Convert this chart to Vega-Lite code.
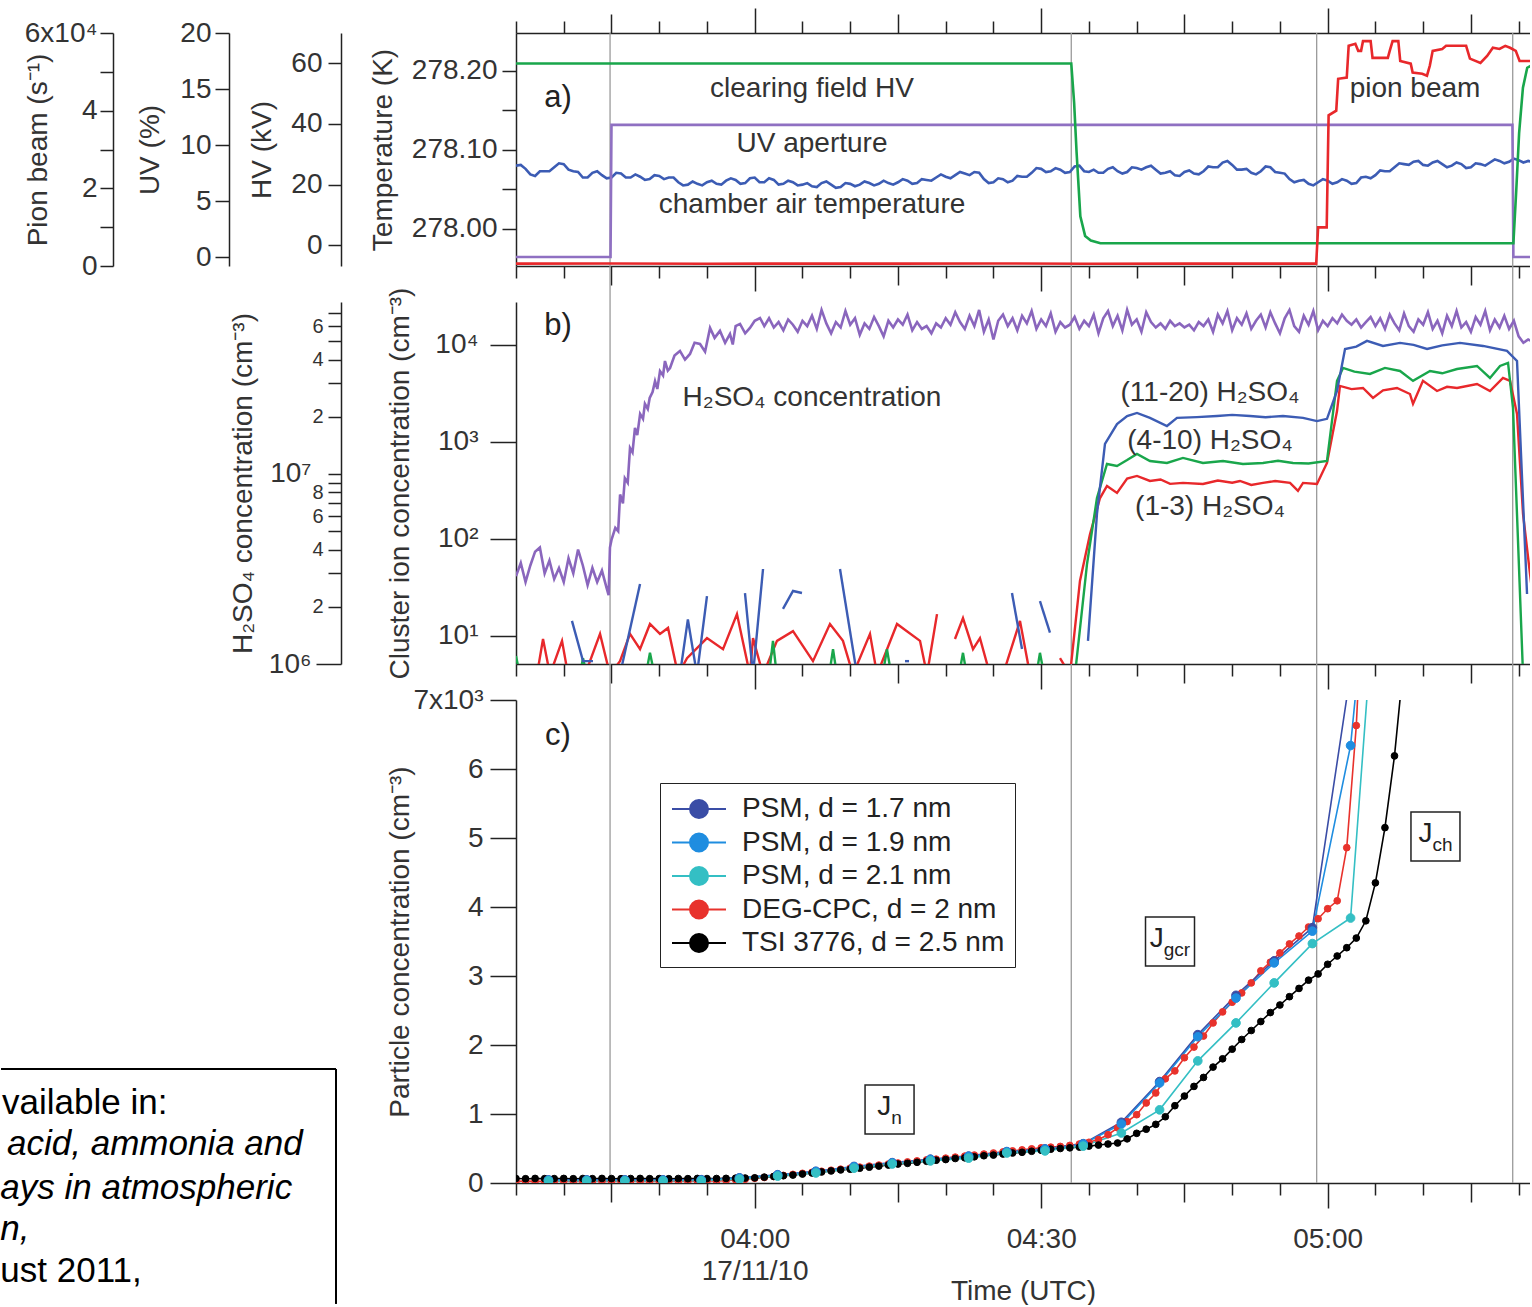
{
"$schema":"https://vega.github.io/schema/vega-lite/v6.json",
"background":"white",
"padding":{"left":0,"top":7,"right":0,"bottom":0},
"config":{
 "font":"Liberation Sans",
 "view":{"stroke":null},
 "axis":{"grid":false,"domainColor":"#222","domainWidth":1.5,"tickColor":"#222","tickWidth":1.5,"labelColor":"#333","labelFontSize":28,"titleColor":"#333","titleFontSize":28,"titleFontWeight":"normal","labelFont":"Liberation Sans","titleFont":"Liberation Sans","labelOverlap":false,"labelBound":false,"labelFlush":false},
 "text":{"font":"Liberation Sans","color":"#333"}
},
"bounds":"flush",
"spacing":36,
"datasets":{
 "vlines":[{"t":-15.15},{"t":33.15},{"t":58.85},{"t":79.38}],
 "hv":[{"t":-25,"v":60},{"t":33.15,"v":60},{"t":33.45,"v":47},{"t":33.7,"v":31},{"t":34.1,"v":9.5},{"t":34.6,"v":3},{"t":35.2,"v":1.5},{"t":36.2,"v":0.6},{"t":79.45,"v":0.6},{"t":79.75,"v":18},{"t":80.05,"v":37},{"t":80.45,"v":52},{"t":80.9,"v":58.6},{"t":81.4,"v":59.5}],
 "uv":[{"t":-25,"v":0},{"t":-15.1,"v":0},{"t":-15.0,"v":11.8},{"t":79.35,"v":11.8},{"t":79.45,"v":0},{"t":81.4,"v":0}],
 "pion":[{"t":-25,"v":600},{"t":-15,"v":650},{"t":-5,"v":580},{"t":5,"v":620},{"t":15,"v":600},{"t":25,"v":640},{"t":35,"v":590},{"t":45,"v":620},{"t":58.8,"v":600},{"t":59.0,"v":9950},{"t":59.9,"v":9950},{"t":60.1,"v":38800},{"t":60.9,"v":40000},{"t":61.1,"v":48200},{"t":62.0,"v":48500},{"t":62.2,"v":56700},{"t":62.9,"v":57200},{"t":63.2,"v":55400},{"t":63.5,"v":55400},{"t":63.7,"v":57900},{"t":64.5,"v":57900},{"t":64.7,"v":53600},{"t":66.3,"v":53600},{"t":66.5,"v":55400},{"t":66.8,"v":57900},{"t":67.4,"v":57900},{"t":67.6,"v":52800},{"t":68.7,"v":52100},{"t":68.9,"v":49800},{"t":69.9,"v":49500},{"t":70.4,"v":49000},{"t":70.7,"v":51600},{"t":71.0,"v":55400},{"t":72.0,"v":55900},{"t":72.4,"v":56700},{"t":74.5,"v":56700},{"t":74.9,"v":53400},{"t":76.0,"v":52300},{"t":76.7,"v":54100},{"t":77.3,"v":56200},{"t":78.0,"v":55900},{"t":78.6,"v":56700},{"t":79.1,"v":56200},{"t":79.7,"v":55400},{"t":80.1,"v":52800},{"t":81.4,"v":52800}],
 "temp":[{"t":-25,"v":278.080},{"t":-24.5,"v":278.081},{"t":-24,"v":278.076},{"t":-23.5,"v":278.069},{"t":-23,"v":278.067},{"t":-22.5,"v":278.073},{"t":-22,"v":278.073},{"t":-21.5,"v":278.073},{"t":-21,"v":278.078},{"t":-20.5,"v":278.083},{"t":-20,"v":278.082},{"t":-19.5,"v":278.075},{"t":-19,"v":278.073},{"t":-18.5,"v":278.072},{"t":-18,"v":278.065},{"t":-17.5,"v":278.065},{"t":-17,"v":278.071},{"t":-16.5,"v":278.073},{"t":-16,"v":278.068},{"t":-15.5,"v":278.064},{"t":-15,"v":278.065},{"t":-14.5,"v":278.071},{"t":-14,"v":278.070},{"t":-13.5,"v":278.065},{"t":-13,"v":278.065},{"t":-12.5,"v":278.069},{"t":-12,"v":278.066},{"t":-11.5,"v":278.062},{"t":-11,"v":278.063},{"t":-10.5,"v":278.068},{"t":-10,"v":278.067},{"t":-9.5,"v":278.063},{"t":-9,"v":278.065},{"t":-8.5,"v":278.065},{"t":-8,"v":278.059},{"t":-7.5,"v":278.055},{"t":-7,"v":278.056},{"t":-6.5,"v":278.060},{"t":-6,"v":278.057},{"t":-5.5,"v":278.055},{"t":-5,"v":278.059},{"t":-4.5,"v":278.061},{"t":-4,"v":278.057},{"t":-3.5,"v":278.056},{"t":-3,"v":278.061},{"t":-2.5,"v":278.064},{"t":-2,"v":278.062},{"t":-1.5,"v":278.057},{"t":-1,"v":278.058},{"t":-0.5,"v":278.064},{"t":0,"v":278.065},{"t":0.5,"v":278.059},{"t":1,"v":278.059},{"t":1.5,"v":278.064},{"t":2,"v":278.062},{"t":2.5,"v":278.056},{"t":3,"v":278.057},{"t":3.5,"v":278.061},{"t":4,"v":278.059},{"t":4.5,"v":278.055},{"t":5,"v":278.056},{"t":5.5,"v":278.058},{"t":6,"v":278.054},{"t":6.5,"v":278.053},{"t":7,"v":278.058},{"t":7.5,"v":278.060},{"t":8,"v":278.056},{"t":8.5,"v":278.052},{"t":9,"v":278.053},{"t":9.5,"v":278.058},{"t":10,"v":278.057},{"t":10.5,"v":278.054},{"t":11,"v":278.056},{"t":11.5,"v":278.060},{"t":12,"v":278.058},{"t":12.5,"v":278.055},{"t":13,"v":278.057},{"t":13.5,"v":278.061},{"t":14,"v":278.058},{"t":14.5,"v":278.056},{"t":15,"v":278.059},{"t":15.5,"v":278.063},{"t":16,"v":278.061},{"t":16.5,"v":278.057},{"t":17,"v":278.058},{"t":17.5,"v":278.063},{"t":18,"v":278.062},{"t":18.5,"v":278.061},{"t":19,"v":278.065},{"t":19.5,"v":278.069},{"t":20,"v":278.066},{"t":20.5,"v":278.064},{"t":21,"v":278.068},{"t":21.5,"v":278.072},{"t":22,"v":278.070},{"t":22.5,"v":278.068},{"t":23,"v":278.072},{"t":23.5,"v":278.071},{"t":24,"v":278.063},{"t":24.5,"v":278.058},{"t":25,"v":278.059},{"t":25.5,"v":278.064},{"t":26,"v":278.063},{"t":26.5,"v":278.059},{"t":27,"v":278.061},{"t":27.5,"v":278.067},{"t":28,"v":278.066},{"t":28.5,"v":278.066},{"t":29,"v":278.071},{"t":29.5,"v":278.077},{"t":30,"v":278.076},{"t":30.5,"v":278.072},{"t":31,"v":278.073},{"t":31.5,"v":278.077},{"t":32,"v":278.075},{"t":32.5,"v":278.071},{"t":33,"v":278.072},{"t":33.5,"v":278.079},{"t":34,"v":278.080},{"t":34.5,"v":278.073},{"t":35,"v":278.072},{"t":35.5,"v":278.075},{"t":36,"v":278.071},{"t":36.5,"v":278.071},{"t":37,"v":278.076},{"t":37.5,"v":278.078},{"t":38,"v":278.073},{"t":38.5,"v":278.070},{"t":39,"v":278.072},{"t":39.5,"v":278.078},{"t":40,"v":278.077},{"t":40.5,"v":278.075},{"t":41,"v":278.078},{"t":41.5,"v":278.080},{"t":42,"v":278.075},{"t":42.5,"v":278.070},{"t":43,"v":278.071},{"t":43.5,"v":278.073},{"t":44,"v":278.068},{"t":44.5,"v":278.067},{"t":45,"v":278.072},{"t":45.5,"v":278.074},{"t":46,"v":278.070},{"t":46.5,"v":278.069},{"t":47,"v":278.073},{"t":47.5,"v":278.079},{"t":48,"v":278.078},{"t":48.5,"v":278.078},{"t":49,"v":278.084},{"t":49.5,"v":278.086},{"t":50,"v":278.081},{"t":50.5,"v":278.075},{"t":51,"v":278.075},{"t":51.5,"v":278.076},{"t":52,"v":278.071},{"t":52.5,"v":278.069},{"t":53,"v":278.073},{"t":53.5,"v":278.079},{"t":54,"v":278.078},{"t":54.5,"v":278.072},{"t":55,"v":278.071},{"t":55.5,"v":278.070},{"t":56,"v":278.063},{"t":56.5,"v":278.059},{"t":57,"v":278.061},{"t":57.5,"v":278.062},{"t":58,"v":278.057},{"t":58.5,"v":278.055},{"t":59,"v":278.059},{"t":59.5,"v":278.063},{"t":60,"v":278.061},{"t":60.5,"v":278.057},{"t":61,"v":278.059},{"t":61.5,"v":278.063},{"t":62,"v":278.061},{"t":62.5,"v":278.057},{"t":63,"v":278.058},{"t":63.5,"v":278.065},{"t":64,"v":278.066},{"t":64.5,"v":278.064},{"t":65,"v":278.068},{"t":65.5,"v":278.074},{"t":66,"v":278.073},{"t":66.5,"v":278.073},{"t":67,"v":278.078},{"t":67.5,"v":278.083},{"t":68,"v":278.082},{"t":68.5,"v":278.081},{"t":69,"v":278.085},{"t":69.5,"v":278.086},{"t":70,"v":278.081},{"t":70.5,"v":278.080},{"t":71,"v":278.084},{"t":71.5,"v":278.086},{"t":72,"v":278.082},{"t":72.5,"v":278.078},{"t":73,"v":278.080},{"t":73.5,"v":278.084},{"t":74,"v":278.082},{"t":74.5,"v":278.077},{"t":75,"v":278.078},{"t":75.5,"v":278.083},{"t":76,"v":278.082},{"t":76.5,"v":278.080},{"t":77,"v":278.084},{"t":77.5,"v":278.088},{"t":78,"v":278.086},{"t":78.5,"v":278.083},{"t":79,"v":278.085},{"t":79.5,"v":278.089},{"t":80,"v":278.087},{"t":80.5,"v":278.084},{"t":81,"v":278.086},{"t":81.4,"v":278.085}],
 "h2so4":[{"t":-25,"v":2.9e6},{"t":-24.5,"v":3.4e6},{"t":-24,"v":2.7e6},{"t":-23.5,"v":3.3e6},{"t":-23,"v":3.9e6},{"t":-22.5,"v":4.1e6},{"t":-22,"v":3.0e6},{"t":-21.5,"v":3.5e6},{"t":-21,"v":2.8e6},{"t":-20.5,"v":3.2e6},{"t":-20,"v":2.7e6},{"t":-19.5,"v":3.6e6},{"t":-19,"v":3.0e6},{"t":-18.5,"v":4.0e6},{"t":-18,"v":3.3e6},{"t":-17.5,"v":2.6e6},{"t":-17,"v":3.2e6},{"t":-16.5,"v":2.7e6},{"t":-16,"v":3.1e6},{"t":-15.5,"v":2.5e6},{"t":-15.3,"v":2.3e6},{"t":-15.16,"v":4.1e6},{"t":-15.0,"v":4.5e6},{"t":-14.6,"v":5.2e6},{"t":-14.3,"v":5.0e6},{"t":-14.1,"v":7.8e6},{"t":-13.8,"v":7.0e6},{"t":-13.6,"v":9.5e6},{"t":-13.3,"v":9.0e6},{"t":-13.06,"v":1.37e7},{"t":-12.8,"v":1.3e7},{"t":-12.54,"v":1.75e7},{"t":-12.3,"v":1.6e7},{"t":-12.0,"v":2.07e7},{"t":-11.7,"v":1.95e7},{"t":-11.5,"v":2.34e7},{"t":-11.2,"v":2.2e7},{"t":-11.0,"v":2.51e7},{"t":-10.7,"v":2.7e7},{"t":-10.44,"v":3.08e7},{"t":-10.2,"v":2.8e7},{"t":-9.92,"v":3.48e7},{"t":-9.6,"v":3.3e7},{"t":-9.4,"v":3.93e7},{"t":-9.1,"v":3.5e7},{"t":-8.87,"v":3.61e7},{"t":-8.4,"v":4.2e7},{"t":-7.83,"v":4.44e7},{"t":-7.3,"v":4.0e7},{"t":-6.78,"v":4.28e7},{"t":-6.3,"v":4.9e7},{"t":-5.73,"v":4.83e7},{"t":-5.2,"v":4.4e7},{"t":-4.68,"v":5.87e7},{"t":-4.2,"v":5.2e7},{"t":-3.64,"v":5.66e7},{"t":-3.1,"v":4.9e7},{"t":-2.59,"v":5.46e7},{"t":-2.3,"v":4.8e7},{"t":-2.0,"v":6.0e7},{"t":-1.54,"v":6.16e7},{"t":-1.0,"v":5.5e7},{"t":-0.5,"v":5.87e7},{"t":0,"v":6.4e7},{"t":0.55,"v":6.62e7},
 {"t":1.0,"v":6.0e7},{"t":1.5,"v":6.6e7},{"t":2.0,"v":5.9e7},{"t":2.5,"v":6.3e7},{"t":3.0,"v":5.7e7},{"t":3.5,"v":6.5e7},{"t":4.0,"v":6.1e7},{"t":4.5,"v":5.6e7},{"t":5.0,"v":6.4e7},{"t":5.5,"v":6.0e7},{"t":6.0,"v":6.8e7},{"t":6.5,"v":5.8e7},{"t":7.0,"v":7.3e7},{"t":7.5,"v":6.2e7},{"t":8.0,"v":5.5e7},{"t":8.5,"v":6.3e7},{"t":9.0,"v":5.9e7},{"t":9.5,"v":7.2e7},{"t":10.0,"v":6.1e7},{"t":10.5,"v":6.6e7},{"t":11.0,"v":5.4e7},{"t":11.5,"v":6.2e7},{"t":12.0,"v":5.8e7},{"t":12.5,"v":6.7e7},{"t":13.0,"v":6.0e7},{"t":13.5,"v":5.3e7},{"t":14.0,"v":6.4e7},{"t":14.5,"v":5.9e7},{"t":15.0,"v":6.5e7},{"t":15.5,"v":6.1e7},{"t":16.0,"v":6.9e7},{"t":16.5,"v":5.7e7},{"t":17.0,"v":6.3e7},{"t":17.5,"v":5.8e7},{"t":18.0,"v":6.0e7},{"t":18.5,"v":5.5e7},{"t":19.0,"v":6.2e7},{"t":19.5,"v":5.9e7},{"t":20.0,"v":6.6e7},{"t":20.5,"v":6.1e7},{"t":21.0,"v":7.1e7},{"t":21.5,"v":6.3e7},{"t":22.0,"v":5.8e7},{"t":22.5,"v":6.8e7},{"t":23.0,"v":6.0e7},{"t":23.5,"v":7.3e7},{"t":24.0,"v":5.6e7},{"t":24.5,"v":6.5e7},{"t":25.0,"v":5.1e7},{"t":25.5,"v":6.4e7},{"t":26.0,"v":6.9e7},{"t":26.5,"v":6.0e7},{"t":27.0,"v":6.6e7},{"t":27.5,"v":5.7e7},{"t":28.0,"v":6.8e7},{"t":28.5,"v":6.2e7},{"t":29.0,"v":7.2e7},{"t":29.5,"v":5.8e7},{"t":30.0,"v":6.5e7},{"t":30.5,"v":6.0e7},{"t":31.0,"v":7.0e7},{"t":31.5,"v":5.6e7},{"t":32.0,"v":6.3e7},{"t":32.5,"v":5.9e7},{"t":33.0,"v":6.1e7},{"t":33.5,"v":6.7e7},{"t":34.0,"v":5.8e7},{"t":34.5,"v":6.4e7},{"t":35.0,"v":6.0e7},{"t":35.5,"v":6.9e7},{"t":36.0,"v":5.5e7},{"t":36.5,"v":6.6e7},{"t":37.0,"v":7.2e7},{"t":37.5,"v":6.0e7},{"t":38.0,"v":6.8e7},{"t":38.5,"v":5.7e7},{"t":39.0,"v":7.3e7},{"t":39.5,"v":6.1e7},{"t":40.0,"v":6.5e7},{"t":40.5,"v":5.6e7},{"t":41.0,"v":7.1e7},{"t":41.5,"v":6.3e7},{"t":42.0,"v":5.9e7},{"t":42.5,"v":6.2e7},{"t":43.0,"v":5.8e7},{"t":43.5,"v":6.4e7},{"t":44.0,"v":6.0e7},{"t":44.5,"v":6.2e7},{"t":45.0,"v":5.9e7},{"t":45.5,"v":6.1e7},{"t":46.0,"v":5.7e7},{"t":46.5,"v":6.3e7},{"t":47.0,"v":6.0e7},{"t":47.5,"v":6.5e7},{"t":48.0,"v":5.6e7},{"t":48.5,"v":6.9e7},{"t":49.0,"v":6.2e7},{"t":49.5,"v":7.2e7},{"t":50.0,"v":5.7e7},{"t":50.5,"v":6.6e7},{"t":51.0,"v":6.1e7},{"t":51.5,"v":7.0e7},{"t":52.0,"v":5.8e7},{"t":52.5,"v":6.4e7},{"t":53.0,"v":6.9e7},{"t":53.5,"v":5.9e7},{"t":54.0,"v":7.1e7},{"t":54.5,"v":6.2e7},{"t":55.0,"v":5.5e7},{"t":55.5,"v":6.6e7},{"t":56.0,"v":7.3e7},{"t":56.5,"v":6.0e7},{"t":57.0,"v":5.6e7},{"t":57.5,"v":6.8e7},{"t":58.0,"v":6.1e7},{"t":58.5,"v":7.2e7},{"t":59.0,"v":5.7e7},{"t":59.5,"v":6.4e7},{"t":60.0,"v":6.0e7},{"t":60.5,"v":6.6e7},{"t":61.0,"v":6.2e7},{"t":61.5,"v":6.9e7},{"t":62.0,"v":6.4e7},{"t":62.5,"v":6.1e7},{"t":63.0,"v":6.5e7},{"t":63.5,"v":5.9e7},{"t":64.0,"v":6.3e7},{"t":64.5,"v":6.7e7},{"t":65.0,"v":6.0e7},{"t":65.5,"v":6.6e7},{"t":66.0,"v":5.8e7},{"t":66.5,"v":6.9e7},{"t":67.0,"v":6.2e7},{"t":67.5,"v":5.7e7},{"t":68.0,"v":7.0e7},{"t":68.5,"v":6.0e7},{"t":69.0,"v":5.6e7},{"t":69.5,"v":6.5e7},{"t":70.0,"v":6.1e7},{"t":70.5,"v":7.1e7},{"t":71.0,"v":5.8e7},{"t":71.5,"v":6.4e7},{"t":72.0,"v":5.5e7},{"t":72.5,"v":6.8e7},{"t":73.0,"v":6.0e7},{"t":73.5,"v":7.2e7},{"t":74.0,"v":5.9e7},{"t":74.5,"v":6.3e7},{"t":75.0,"v":5.6e7},{"t":75.5,"v":6.7e7},{"t":76.0,"v":6.1e7},{"t":76.5,"v":7.2e7},{"t":77.0,"v":5.7e7},{"t":77.5,"v":6.5e7},{"t":78.0,"v":5.9e7},{"t":78.5,"v":6.8e7},{"t":79.0,"v":5.8e7},{"t":79.5,"v":6.4e7},{"t":80.0,"v":5.3e7},{"t":80.5,"v":4.9e7},{"t":81.0,"v":5.1e7},{"t":81.4,"v":5.0e7}],
 "ions":[
 {"s":"r","g":"r1","t":-25,"v":4},{"s":"r","g":"r1","t":-22.8,"v":4},{"s":"r","g":"r1","t":-22.17,"v":9.3},{"s":"r","g":"r1","t":-21.44,"v":4},{"s":"r","g":"r1","t":-20.18,"v":8.9},{"s":"r","g":"r1","t":-19.55,"v":4},{"s":"r","g":"r1","t":-17.77,"v":4},{"s":"r","g":"r1","t":-16.2,"v":10.5},{"s":"r","g":"r1","t":-15.16,"v":4},{"s":"r","g":"r1","t":-14.11,"v":5.5},{"s":"r","g":"r1","t":-13.06,"v":10.5},{"s":"r","g":"r1","t":-12.01,"v":7.3},{"s":"r","g":"r1","t":-10.97,"v":13.3},{"s":"r","g":"r1","t":-9.92,"v":10.5},{"s":"r","g":"r1","t":-9.08,"v":12.1},{"s":"r","g":"r1","t":-8.03,"v":4},{"s":"r","g":"r1","t":-7.09,"v":5.9},{"s":"r","g":"r1","t":-5.0,"v":9.5},{"s":"r","g":"r1","t":-3.32,"v":7.3},{"s":"r","g":"r1","t":-1.86,"v":16.8},{"s":"r","g":"r1","t":-0.5,"v":4},{"s":"r","g":"r1","t":-0.18,"v":9.5},{"s":"r","g":"r1","t":0.87,"v":4},{"s":"r","g":"r1","t":2.33,"v":8.9},{"s":"r","g":"r1","t":4.01,"v":11.2},{"s":"r","g":"r1","t":6.1,"v":5.5},{"s":"r","g":"r1","t":7.88,"v":13.3},{"s":"r","g":"r1","t":9.24,"v":8.9},{"s":"r","g":"r1","t":10.29,"v":4},{"s":"r","g":"r1","t":12.07,"v":10.5},{"s":"r","g":"r1","t":12.81,"v":4},{"s":"r","g":"r1","t":14.9,"v":13.3},{"s":"r","g":"r1","t":17.31,"v":8.9},{"s":"r","g":"r1","t":18.04,"v":4},{"s":"r","g":"r1","t":19.09,"v":16.8},
 {"s":"r","g":"r2","t":20.97,"v":9.3},{"s":"r","g":"r2","t":21.81,"v":15.3},{"s":"r","g":"r2","t":22.86,"v":7.3},{"s":"r","g":"r2","t":23.59,"v":9.5},{"s":"r","g":"r2","t":24.64,"v":4},{"s":"r","g":"r2","t":26.0,"v":4},{"s":"r","g":"r2","t":27.78,"v":14.3},{"s":"r","g":"r2","t":28.83,"v":4},
 {"s":"r","g":"r3","t":31.97,"v":5.9},{"s":"r","g":"r3","t":33.02,"v":4},{"s":"r","g":"r3","t":34.06,"v":36.9},{"s":"r","g":"r3","t":35.11,"v":112},{"s":"r","g":"r3","t":36.16,"v":264},{"s":"r","g":"r3","t":36.89,"v":352},{"s":"r","g":"r3","t":37.94,"v":298},{"s":"r","g":"r3","t":39.0,"v":420},{"s":"r","g":"r3","t":40.03,"v":446},{"s":"r","g":"r3","t":41.39,"v":396},{"s":"r","g":"r3","t":42.5,"v":410},{"s":"r","g":"r3","t":43.5,"v":370},{"s":"r","g":"r3","t":44.85,"v":378},{"s":"r","g":"r3","t":46.94,"v":369},{"s":"r","g":"r3","t":48.5,"v":400},{"s":"r","g":"r3","t":50.0,"v":380},{"s":"r","g":"r3","t":50.82,"v":396},{"s":"r","g":"r3","t":52.0,"v":360},{"s":"r","g":"r3","t":53.23,"v":378},{"s":"r","g":"r3","t":54.5,"v":395},{"s":"r","g":"r3","t":56.06,"v":378},{"s":"r","g":"r3","t":56.89,"v":313},{"s":"r","g":"r3","t":57.42,"v":378},{"s":"r","g":"r3","t":58.88,"v":369},{"s":"r","g":"r3","t":59.93,"v":607},{"s":"r","g":"r3","t":60.98,"v":2080},{"s":"r","g":"r3","t":61.29,"v":3780},{"s":"r","g":"r3","t":62.5,"v":3500},{"s":"r","g":"r3","t":63.7,"v":3600},{"s":"r","g":"r3","t":64.75,"v":2840},{"s":"r","g":"r3","t":65.8,"v":3400},{"s":"r","g":"r3","t":67.26,"v":3600},{"s":"r","g":"r3","t":68.62,"v":3120},{"s":"r","g":"r3","t":68.94,"v":2470},{"s":"r","g":"r3","t":69.98,"v":4260},{"s":"r","g":"r3","t":71.45,"v":3350},{"s":"r","g":"r3","t":72.5,"v":3700},{"s":"r","g":"r3","t":73.55,"v":3600},{"s":"r","g":"r3","t":75.64,"v":3960},{"s":"r","g":"r3","t":77.0,"v":3350},{"s":"r","g":"r3","t":78.36,"v":4570},{"s":"r","g":"r3","t":79.1,"v":4260},{"s":"r","g":"r3","t":79.83,"v":1940},{"s":"r","g":"r3","t":80.46,"v":181},{"s":"r","g":"r3","t":81.19,"v":43.6},{"s":"r","g":"r3","t":81.4,"v":30},
 {"s":"g","g":"g1","t":-25,"v":6.2},{"s":"g","g":"g1","t":-24.6,"v":4},{"s":"g","g":"g1","t":-18.3,"v":4},{"s":"g","g":"g1","t":-17.98,"v":5.9},{"s":"g","g":"g1","t":-17.6,"v":4},{"s":"g","g":"g1","t":-11.4,"v":4},{"s":"g","g":"g1","t":-10.97,"v":6.7},{"s":"g","g":"g1","t":-10.5,"v":4},{"s":"g","g":"g1","t":1.5,"v":4},{"s":"g","g":"g1","t":1.91,"v":8.9},{"s":"g","g":"g1","t":2.3,"v":4},{"s":"g","g":"g1","t":7.8,"v":4},{"s":"g","g":"g1","t":8.2,"v":7.3},{"s":"g","g":"g1","t":8.6,"v":4},{"s":"g","g":"g1","t":13.4,"v":4},{"s":"g","g":"g1","t":13.85,"v":7.3},{"s":"g","g":"g1","t":14.3,"v":4},{"s":"g","g":"g1","t":21.4,"v":4},{"s":"g","g":"g1","t":21.81,"v":6.7},{"s":"g","g":"g1","t":22.2,"v":4},{"s":"g","g":"g1","t":29.5,"v":4},{"s":"g","g":"g1","t":29.87,"v":6.7},{"s":"g","g":"g1","t":30.3,"v":4},{"s":"g","g":"g1","t":33.54,"v":4},{"s":"g","g":"g1","t":34.8,"v":55.2},{"s":"g","g":"g1","t":35.84,"v":264},{"s":"g","g":"g1","t":36.89,"v":593},{"s":"g","g":"g1","t":37.94,"v":565},{"s":"g","g":"g1","t":39.0,"v":650},{"s":"g","g":"g1","t":40.03,"v":752},{"s":"g","g":"g1","t":41.39,"v":636},{"s":"g","g":"g1","t":43.17,"v":607},{"s":"g","g":"g1","t":44.85,"v":684},{"s":"g","g":"g1","t":46.94,"v":607},{"s":"g","g":"g1","t":49.04,"v":636},{"s":"g","g":"g1","t":51.13,"v":593},{"s":"g","g":"g1","t":53.23,"v":607},{"s":"g","g":"g1","t":54.8,"v":640},{"s":"g","g":"g1","t":56.37,"v":607},{"s":"g","g":"g1","t":58.0,"v":600},{"s":"g","g":"g1","t":59.93,"v":636},{"s":"g","g":"g1","t":60.98,"v":4260},{"s":"g","g":"g1","t":61.61,"v":5800},{"s":"g","g":"g1","t":62.8,"v":5300},{"s":"g","g":"g1","t":64.43,"v":5020},{"s":"g","g":"g1","t":66.0,"v":5800},{"s":"g","g":"g1","t":67.58,"v":5390},{"s":"g","g":"g1","t":68.94,"v":4260},{"s":"g","g":"g1","t":70.72,"v":5390},{"s":"g","g":"g1","t":72.0,"v":5100},{"s":"g","g":"g1","t":73.55,"v":5650},{"s":"g","g":"g1","t":75.64,"v":6070},{"s":"g","g":"g1","t":77.0,"v":4570},{"s":"g","g":"g1","t":78.05,"v":6070},{"s":"g","g":"g1","t":78.89,"v":6520},{"s":"g","g":"g1","t":79.41,"v":2240},{"s":"g","g":"g1","t":80.46,"v":4},{"s":"g","g":"g1","t":81.4,"v":4},
 {"s":"b","g":"b1","t":-19.14,"v":14.3},{"s":"b","g":"b1","t":-17.98,"v":5.5},{"s":"b","g":"b1","t":-16.94,"v":5.5},
 {"s":"b","g":"b2","t":-14.11,"v":4},{"s":"b","g":"b2","t":-12.01,"v":34.4},
 {"s":"b","g":"b3","t":-7.83,"v":4},{"s":"b","g":"b3","t":-7.0,"v":14.8},{"s":"b","g":"b3","t":-6.05,"v":4},{"s":"b","g":"b3","t":-5.0,"v":25.8},
 {"s":"b","g":"b4","t":-1.02,"v":27.7},{"s":"b","g":"b4","t":-0.18,"v":4},{"s":"b","g":"b4","t":0.87,"v":49.0},
 {"s":"b","g":"b5","t":2.96,"v":19.0},{"s":"b","g":"b5","t":4.01,"v":29.1},{"s":"b","g":"b5","t":4.95,"v":27.7},
 {"s":"b","g":"b6","t":8.93,"v":49.0},{"s":"b","g":"b6","t":10.71,"v":4},
 {"s":"b","g":"b7","t":15.74,"v":5.5},{"s":"b","g":"b7","t":16.16,"v":5.5},
 {"s":"b","g":"b8","t":26.94,"v":27.7},{"s":"b","g":"b8","t":27.99,"v":7.34},
 {"s":"b","g":"b9","t":29.87,"v":22.9},{"s":"b","g":"b9","t":30.92,"v":10.8},
 {"s":"b","g":"b10","t":34.9,"v":8.9},{"s":"b","g":"b10","t":35.84,"v":181},{"s":"b","g":"b10","t":36.68,"v":953},{"s":"b","g":"b10","t":37.94,"v":1530},{"s":"b","g":"b10","t":39.0,"v":1850},{"s":"b","g":"b10","t":40.03,"v":1990},{"s":"b","g":"b10","t":41.39,"v":1770},{"s":"b","g":"b10","t":43.17,"v":1460},{"s":"b","g":"b10","t":44.22,"v":1770},{"s":"b","g":"b10","t":46.3,"v":1800},{"s":"b","g":"b10","t":48.41,"v":1850},{"s":"b","g":"b10","t":50.0,"v":1900},{"s":"b","g":"b10","t":51.87,"v":1850},{"s":"b","g":"b10","t":53.5,"v":1800},{"s":"b","g":"b10","t":55.32,"v":1850},{"s":"b","g":"b10","t":57.42,"v":1770},{"s":"b","g":"b10","t":58.88,"v":1640},{"s":"b","g":"b10","t":59.93,"v":1730},{"s":"b","g":"b10","t":60.98,"v":3350},{"s":"b","g":"b10","t":61.82,"v":9080},{"s":"b","g":"b10","t":63.0,"v":9600},{"s":"b","g":"b10","t":64.12,"v":11000},{"s":"b","g":"b10","t":65.79,"v":9760},{"s":"b","g":"b10","t":67.58,"v":10500},{"s":"b","g":"b10","t":69.0,"v":10000},{"s":"b","g":"b10","t":70.41,"v":9080},{"s":"b","g":"b10","t":72.0,"v":9900},{"s":"b","g":"b10","t":73.86,"v":10500},{"s":"b","g":"b10","t":76.27,"v":9760},{"s":"b","g":"b10","t":78.78,"v":8670},{"s":"b","g":"b10","t":79.83,"v":6840},{"s":"b","g":"b10","t":80.88,"v":27.1}],
 "parts":[
 {"s":"deg","t":-25,"v":25},{"s":"deg","t":-24,"v":27},{"s":"deg","t":-23,"v":24},{"s":"deg","t":-22,"v":26},{"s":"deg","t":-21,"v":25},{"s":"deg","t":-20,"v":27},{"s":"deg","t":-19,"v":24},{"s":"deg","t":-18,"v":26},{"s":"deg","t":-17,"v":25},{"s":"deg","t":-16,"v":27},{"s":"deg","t":-15,"v":24},{"s":"deg","t":-14,"v":26},{"s":"deg","t":-13,"v":25},{"s":"deg","t":-12,"v":27},{"s":"deg","t":-11,"v":24},{"s":"deg","t":-10,"v":26},{"s":"deg","t":-9,"v":25},{"s":"deg","t":-8,"v":27},{"s":"deg","t":-7,"v":26},{"s":"deg","t":-6,"v":28},{"s":"deg","t":-5,"v":28},{"s":"deg","t":-4,"v":30},{"s":"deg","t":-3,"v":35},{"s":"deg","t":-2,"v":45},{"s":"deg","t":-1,"v":55},{"s":"deg","t":0,"v":68},{"s":"deg","t":1,"v":80},{"s":"deg","t":2,"v":95},{"s":"deg","t":3,"v":110},{"s":"deg","t":4,"v":125},{"s":"deg","t":5,"v":140},{"s":"deg","t":6,"v":155},{"s":"deg","t":7,"v":170},{"s":"deg","t":8,"v":185},{"s":"deg","t":9,"v":200},{"s":"deg","t":10,"v":215},{"s":"deg","t":11,"v":230},{"s":"deg","t":12,"v":245},{"s":"deg","t":13,"v":260},{"s":"deg","t":14,"v":275},{"s":"deg","t":15,"v":290},{"s":"deg","t":16,"v":305},{"s":"deg","t":17,"v":320},{"s":"deg","t":18,"v":335},{"s":"deg","t":19,"v":345},{"s":"deg","t":20,"v":360},{"s":"deg","t":21,"v":375},{"s":"deg","t":22,"v":390},{"s":"deg","t":23,"v":405},{"s":"deg","t":24,"v":420},{"s":"deg","t":25,"v":435},{"s":"deg","t":26,"v":450},{"s":"deg","t":27,"v":465},{"s":"deg","t":28,"v":480},{"s":"deg","t":29,"v":495},{"s":"deg","t":30,"v":510},{"s":"deg","t":31,"v":520},{"s":"deg","t":32,"v":530},{"s":"deg","t":33,"v":545},{"s":"deg","t":34,"v":565},{"s":"deg","t":35,"v":590},{"s":"deg","t":36,"v":630},{"s":"deg","t":37,"v":700},{"s":"deg","t":38,"v":800},{"s":"deg","t":39,"v":890},{"s":"deg","t":40,"v":990},{"s":"deg","t":41,"v":1160},{"s":"deg","t":42,"v":1305},{"s":"deg","t":43,"v":1510},{"s":"deg","t":44,"v":1625},{"s":"deg","t":45,"v":1815},{"s":"deg","t":46,"v":1970},{"s":"deg","t":47,"v":2130},{"s":"deg","t":48,"v":2320},{"s":"deg","t":49,"v":2480},{"s":"deg","t":50,"v":2620},{"s":"deg","t":51,"v":2755},{"s":"deg","t":52,"v":2900},{"s":"deg","t":53,"v":3075},{"s":"deg","t":54,"v":3200},{"s":"deg","t":55,"v":3335},{"s":"deg","t":56,"v":3465},{"s":"deg","t":57,"v":3580},{"s":"deg","t":58,"v":3710},{"s":"deg","t":59,"v":3830},{"s":"deg","t":60,"v":3975},{"s":"deg","t":61,"v":4090},{"s":"deg","t":62,"v":4860},{"s":"deg","t":63,"v":6630},{"s":"deg","t":64,"v":9500},
 {"s":"tsi","t":-25,"v":65},{"s":"tsi","t":-24,"v":62},{"s":"tsi","t":-23,"v":66},{"s":"tsi","t":-22,"v":63},{"s":"tsi","t":-21,"v":64},{"s":"tsi","t":-20,"v":66},{"s":"tsi","t":-19,"v":62},{"s":"tsi","t":-18,"v":65},{"s":"tsi","t":-17,"v":63},{"s":"tsi","t":-16,"v":66},{"s":"tsi","t":-15,"v":64},{"s":"tsi","t":-14,"v":62},{"s":"tsi","t":-13,"v":65},{"s":"tsi","t":-12,"v":66},{"s":"tsi","t":-11,"v":63},{"s":"tsi","t":-10,"v":64},{"s":"tsi","t":-9,"v":62},{"s":"tsi","t":-8,"v":65},{"s":"tsi","t":-7,"v":63},{"s":"tsi","t":-6,"v":66},{"s":"tsi","t":-5,"v":64},{"s":"tsi","t":-4,"v":65},{"s":"tsi","t":-3,"v":67},{"s":"tsi","t":-2,"v":70},{"s":"tsi","t":-1,"v":72},{"s":"tsi","t":0,"v":75},{"s":"tsi","t":1,"v":85},{"s":"tsi","t":2,"v":95},{"s":"tsi","t":3,"v":105},{"s":"tsi","t":4,"v":115},{"s":"tsi","t":5,"v":130},{"s":"tsi","t":6,"v":145},{"s":"tsi","t":7,"v":160},{"s":"tsi","t":8,"v":175},{"s":"tsi","t":9,"v":190},{"s":"tsi","t":10,"v":200},{"s":"tsi","t":11,"v":215},{"s":"tsi","t":12,"v":230},{"s":"tsi","t":13,"v":245},{"s":"tsi","t":14,"v":260},{"s":"tsi","t":15,"v":275},{"s":"tsi","t":16,"v":285},{"s":"tsi","t":17,"v":300},{"s":"tsi","t":18,"v":315},{"s":"tsi","t":19,"v":330},{"s":"tsi","t":20,"v":340},{"s":"tsi","t":21,"v":355},{"s":"tsi","t":22,"v":365},{"s":"tsi","t":23,"v":380},{"s":"tsi","t":24,"v":395},{"s":"tsi","t":25,"v":405},{"s":"tsi","t":26,"v":420},{"s":"tsi","t":27,"v":435},{"s":"tsi","t":28,"v":445},{"s":"tsi","t":29,"v":460},{"s":"tsi","t":30,"v":475},{"s":"tsi","t":31,"v":490},{"s":"tsi","t":32,"v":500},{"s":"tsi","t":33,"v":510},{"s":"tsi","t":34,"v":520},{"s":"tsi","t":35,"v":535},{"s":"tsi","t":36,"v":550},{"s":"tsi","t":37,"v":565},{"s":"tsi","t":38,"v":580},{"s":"tsi","t":39,"v":640},{"s":"tsi","t":40,"v":720},{"s":"tsi","t":41,"v":780},{"s":"tsi","t":42,"v":850},{"s":"tsi","t":43,"v":960},{"s":"tsi","t":44,"v":1120},{"s":"tsi","t":45,"v":1260},{"s":"tsi","t":46,"v":1400},{"s":"tsi","t":47,"v":1530},{"s":"tsi","t":48,"v":1680},{"s":"tsi","t":49,"v":1800},{"s":"tsi","t":50,"v":1940},{"s":"tsi","t":51,"v":2080},{"s":"tsi","t":52,"v":2210},{"s":"tsi","t":53,"v":2340},{"s":"tsi","t":54,"v":2470},{"s":"tsi","t":55,"v":2580},{"s":"tsi","t":56,"v":2700},{"s":"tsi","t":57,"v":2820},{"s":"tsi","t":58,"v":2940},{"s":"tsi","t":59,"v":3030},{"s":"tsi","t":60,"v":3170},{"s":"tsi","t":61,"v":3290},{"s":"tsi","t":62,"v":3410},{"s":"tsi","t":63,"v":3550},{"s":"tsi","t":64,"v":3800},{"s":"tsi","t":65,"v":4350},{"s":"tsi","t":66,"v":5150},{"s":"tsi","t":67,"v":6190},{"s":"tsi","t":68,"v":7600},
 {"s":"p17","t":-21.6,"v":45},{"s":"p17","t":-17.6,"v":45},{"s":"p17","t":-13.6,"v":45},{"s":"p17","t":-9.6,"v":45},{"s":"p17","t":-5.6,"v":48},{"s":"p17","t":-1.6,"v":75},{"s":"p17","t":2.4,"v":120},{"s":"p17","t":6.4,"v":170},{"s":"p17","t":10.4,"v":240},{"s":"p17","t":14.4,"v":295},{"s":"p17","t":18.4,"v":345},{"s":"p17","t":22.4,"v":390},{"s":"p17","t":26.4,"v":455},{"s":"p17","t":30.4,"v":495},{"s":"p17","t":34.4,"v":570},{"s":"p17","t":38.4,"v":880},{"s":"p17","t":42.4,"v":1470},{"s":"p17","t":46.4,"v":2150},{"s":"p17","t":50.4,"v":2720},{"s":"p17","t":54.4,"v":3220},{"s":"p17","t":58.4,"v":3700},{"s":"p17","t":62.4,"v":7400},{"s":"p17","t":66.4,"v":13000},
 {"s":"p19","t":-21.6,"v":40},{"s":"p19","t":-17.6,"v":40},{"s":"p19","t":-13.6,"v":40},{"s":"p19","t":-9.6,"v":40},{"s":"p19","t":-5.6,"v":42},{"s":"p19","t":-1.6,"v":70},{"s":"p19","t":2.4,"v":115},{"s":"p19","t":6.4,"v":165},{"s":"p19","t":10.4,"v":235},{"s":"p19","t":14.4,"v":290},{"s":"p19","t":18.4,"v":340},{"s":"p19","t":22.4,"v":385},{"s":"p19","t":26.4,"v":450},{"s":"p19","t":30.4,"v":490},{"s":"p19","t":34.4,"v":565},{"s":"p19","t":38.4,"v":855},{"s":"p19","t":42.4,"v":1450},{"s":"p19","t":46.4,"v":2120},{"s":"p19","t":50.4,"v":2680},{"s":"p19","t":54.4,"v":3190},{"s":"p19","t":58.4,"v":3650},{"s":"p19","t":62.4,"v":6340},{"s":"p19","t":66.4,"v":12000},
 {"s":"p21","t":-21.6,"v":30},{"s":"p21","t":-17.6,"v":30},{"s":"p21","t":-13.6,"v":30},{"s":"p21","t":-9.6,"v":30},{"s":"p21","t":-5.6,"v":32},{"s":"p21","t":-1.6,"v":55},{"s":"p21","t":2.4,"v":100},{"s":"p21","t":6.4,"v":145},{"s":"p21","t":10.4,"v":215},{"s":"p21","t":14.4,"v":275},{"s":"p21","t":18.4,"v":320},{"s":"p21","t":22.4,"v":360},{"s":"p21","t":26.4,"v":435},{"s":"p21","t":30.4,"v":465},{"s":"p21","t":34.4,"v":535},{"s":"p21","t":38.4,"v":725},{"s":"p21","t":42.4,"v":1060},{"s":"p21","t":46.4,"v":1770},{"s":"p21","t":50.4,"v":2320},{"s":"p21","t":54.4,"v":2900},{"s":"p21","t":58.4,"v":3470},{"s":"p21","t":62.4,"v":3840},{"s":"p21","t":66.4,"v":11300}],
 "jlab":[{"lab":"n","t":14.29,"bt":14.12,"v":1065},{"lab":"gcr","t":42.84,"bt":43.49,"v":3499},{"lab":"ch","t":70.98,"bt":71.29,"v":5021}]
},
"vconcat":[
 {
  "width":1014,"height":233,
  "layer":[
   {"layer":[
     {"data":{"name":"vlines"},"mark":{"type":"rule","color":"#9a9a9a","strokeWidth":1.3},
      "encoding":{"x":{"field":"t","type":"quantitative","title":null,"scale":{"domain":[-25,81.19],"nice":false,"zero":false},
        "axis":{"orient":"top","values":[-25,-20,-15,-10,-5,0,5,10,15,20,25,30,35,40,45,50,55,60,65,70,75,80],"labels":false,"title":null,"tickSize":{"condition":[{"test":"datum.value % 30 === 0","value":25},{"test":"datum.value % 15 === 0","value":19}],"value":12}}}}},
     {"data":{"name":"temp"},"mark":{"type":"line","color":"#3c5cb4","strokeWidth":2.6,"clip":true},
      "encoding":{"x":{"field":"t","type":"quantitative","title":null},
        "y":{"field":"v","type":"quantitative","scale":{"domain":[277.953,278.248],"nice":false,"zero":false},
          "axis":{"orient":"left","offset":0,"values":[277.95,278,278.05,278.1,278.15,278.2],"labelExpr":"indexof(['278.00','278.10','278.20'], format(datum.value, '.2f')) >= 0 ? format(datum.value, '.2f') : ''","tickSize":14,"labelPadding":5,"title":"Temperature (K)","titleX":-133,"titleBaseline":"middle"}}}},
     {"data":{"values":[{"txt":"clearing field HV","t":6.0,"v":278.177},{"txt":"UV aperture","t":6.0,"v":278.108},{"txt":"chamber air temperature","t":6.0,"v":278.03},{"txt":"pion beam","t":69.15,"v":278.177}]},
      "mark":{"type":"text","fontSize":28,"align":"center","baseline":"middle"},
      "encoding":{"x":{"field":"t","type":"quantitative","title":null},"y":{"field":"v","type":"quantitative"},"text":{"field":"txt"}}},
     {"data":{"values":[{"txt":"a)","t":-20.6,"v":278.166}]},
      "mark":{"type":"text","fontSize":31,"align":"center","baseline":"middle","color":"#222"},
      "encoding":{"x":{"field":"t","type":"quantitative","title":null},"y":{"field":"v","type":"quantitative"},"text":{"field":"txt"}}}
   ]},
   {"data":{"name":"uv"},"mark":{"type":"line","color":"#8f70c2","strokeWidth":2.6,"clip":true},
    "encoding":{"x":{"field":"t","type":"quantitative","title":null,"axis":null},
      "y":{"field":"v","type":"quantitative","scale":{"domain":[-0.8,20.0],"nice":false,"zero":false},
        "axis":{"orient":"left","offset":287,"values":[0,5,10,15,20],"tickSize":14,"labelPadding":4,"title":"UV (%)","titleX":-79,"titleBaseline":"middle"}}}},
   {"data":{"name":"hv"},"mark":{"type":"line","color":"#19a64b","strokeWidth":2.6,"clip":true},
    "encoding":{"x":{"field":"t","type":"quantitative","title":null,
        "axis":{"orient":"bottom","values":[-25,-20,-15,-10,-5,0,5,10,15,20,25,30,35,40,45,50,55,60,65,70,75,80],"labels":false,"title":null,"tickSize":{"condition":[{"test":"datum.value % 30 === 0","value":25},{"test":"datum.value % 15 === 0","value":19}],"value":12}}},
      "y":{"field":"v","type":"quantitative","scale":{"domain":[-6.94,70.08],"nice":false,"zero":false},
        "axis":{"orient":"left","offset":175,"values":[0,20,40,60],"tickSize":13,"labelPadding":6,"title":"HV (kV)","titleX":-79,"titleBaseline":"middle"}}}},
   {"data":{"name":"pion"},"mark":{"type":"line","color":"#e8282b","strokeWidth":2.6,"clip":true},
    "encoding":{"x":{"field":"t","type":"quantitative","title":null,"axis":null},
      "y":{"field":"v","type":"quantitative","scale":{"domain":[0,60000],"nice":false,"zero":false},
        "axis":{"orient":"left","offset":403,"values":[0,10000,20000,30000,40000,50000,60000],"labelExpr":"datum.value == 60000 ? '6x10⁴' : datum.value == 40000 ? '4' : datum.value == 20000 ? '2' : datum.value == 0 ? '0' : ''","tickSize":13,"labelPadding":3,"title":"Pion beam (s⁻¹)","titleX":-75,"titleBaseline":"middle"}}}}
  ],
  "resolve":{"scale":{"y":"independent"},"axis":{"x":"independent"}}
 },
 {
  "width":1014,"height":362,
  "layer":[
   {"layer":[
     {"data":{"name":"vlines"},"mark":{"type":"rule","color":"#9a9a9a","strokeWidth":1.3},
      "encoding":{"x":{"field":"t","type":"quantitative","title":null,"scale":{"domain":[-25,81.19],"nice":false,"zero":false},
        "axis":{"orient":"bottom","values":[-25,-20,-15,-10,-5,0,5,10,15,20,25,30,35,40,45,50,55,60,65,70,75,80],"labels":false,"title":null,"tickSize":{"condition":[{"test":"datum.value % 30 === 0","value":25},{"test":"datum.value % 15 === 0","value":19}],"value":12}}},
        "y":{"datum":65200,"scale":{"type":"log","domain":[5.14,27700],"nice":false}},"y2":{"datum":2.19}}},
     {"data":{"name":"ions"},"mark":{"type":"line","strokeWidth":2.4,"clip":true},
      "encoding":{"x":{"field":"t","type":"quantitative","title":null},
        "y":{"field":"v","type":"quantitative","scale":{"type":"log","domain":[5.14,27700],"nice":false},
          "axis":{"orient":"left","offset":0,"values":[10,100,1000,10000],"labelExpr":"datum.value == 10 ? '10¹' : datum.value == 100 ? '10²' : datum.value == 1000 ? '10³' : '10⁴'","tickSize":26,"labelPadding":12,"title":"Cluster ion concentration (cm⁻³)","titleX":-116,"titleBaseline":"middle"}},
        "color":{"field":"s","type":"nominal","scale":{"domain":["b","g","r"],"range":["#3c5cb4","#19a64b","#e8282b"]},"legend":null},
        "detail":{"field":"g"}}},
     {"data":{"values":[{"txt":"H₂SO₄ concentration","t":6.0,"v":2840},{"txt":"(11-20) H₂SO₄","t":47.68,"v":3200},{"txt":"(4-10) H₂SO₄","t":47.68,"v":1024},{"txt":"(1-3) H₂SO₄","t":47.68,"v":214}]},
      "mark":{"type":"text","fontSize":28,"align":"center","baseline":"middle"},
      "encoding":{"x":{"field":"t","type":"quantitative","title":null},"y":{"field":"v","type":"quantitative"},"text":{"field":"txt"}}},
     {"data":{"values":[{"txt":"b)","t":-20.6,"v":15670}]},
      "mark":{"type":"text","fontSize":31,"align":"center","baseline":"middle","color":"#222"},
      "encoding":{"x":{"field":"t","type":"quantitative","title":null},"y":{"field":"v","type":"quantitative"},"text":{"field":"txt"}}}
   ]},
   {"data":{"name":"h2so4"},"mark":{"type":"line","color":"#8a66bd","strokeWidth":2.6,"clip":true},
    "encoding":{"x":{"field":"t","type":"quantitative","title":null,
        "axis":{"orient":"bottom","values":[-25,-20,-15,-10,-5,0,5,10,15,20,25,30,35,40,45,50,55,60,65,70,75,80],"labels":false,"title":null,"tickSize":{"condition":[{"test":"datum.value % 30 === 0","value":25},{"test":"datum.value % 15 === 0","value":19}],"value":12}}},
      "y":{"field":"v","type":"quantitative","scale":{"type":"log","domain":[1000000,80350000],"nice":false},
        "axis":{"orient":"left","offset":175,"values":[1000000,2000000,3000000,4000000,5000000,6000000,7000000,8000000,9000000,10000000,20000000,30000000,40000000,50000000,60000000,70000000],
          "labelExpr":"datum.value == 1000000 ? '10⁶' : datum.value == 10000000 ? '10⁷' : (datum.value == 2000000 || datum.value == 20000000) ? '2' : (datum.value == 4000000 || datum.value == 40000000) ? '4' : (datum.value == 6000000 || datum.value == 60000000) ? '6' : datum.value == 8000000 ? '8' : ''",
          "labelFontSize":{"condition":{"test":"datum.value == 1000000 || datum.value == 10000000","value":28},"value":20},
          "labelPadding":{"condition":{"test":"datum.value == 10000000","value":17},"value":5},
          "tickSize":{"condition":{"test":"datum.value == 1000000","value":25},"value":13},
          "title":"H₂SO₄ concentration (cm⁻³)","titleX":-98,"titleBaseline":"middle"}}}}
  ],
  "resolve":{"scale":{"y":"independent"}}
 },
 {
  "width":1014,"height":483,
  "layer":[
   {"data":{"name":"vlines"},"mark":{"type":"rule","color":"#9a9a9a","strokeWidth":1.3},
    "encoding":{"x":{"field":"t","type":"quantitative","scale":{"domain":[-25,81.19],"nice":false,"zero":false},
      "axis":{"orient":"bottom","values":[-25,-20,-15,-10,-5,0,5,10,15,20,25,30,35,40,45,50,55,60,65,70,75,80],"title":"Time (UTC)","titleY":108,"titleBaseline":"middle","tickSize":{"condition":[{"test":"datum.value % 30 === 0","value":25},{"test":"datum.value % 15 === 0","value":19}],"value":12},"labelPadding":17,"labelLineHeight":32,"labelBaseline":"top","labelAlign":"center",
        "labelExpr":"datum.value == 0 ? ['04:00', '17/11/10'] : datum.value == 30 ? '04:30' : datum.value == 60 ? '05:00' : ''"}}}},
   {"data":{"name":"parts"},"mark":{"type":"line","strokeWidth":1.6,"clip":true},
    "encoding":{"x":{"field":"t","type":"quantitative"},
      "y":{"field":"v","type":"quantitative","scale":{"domain":[0,7000],"nice":false,"zero":false},
        "axis":{"orient":"left","values":[0,1000,2000,3000,4000,5000,6000,7000],"labelExpr":"datum.value == 7000 ? '7x10³' : format(datum.value / 1000, 'd')","tickSize":26,"labelPadding":7,"title":"Particle concentration (cm⁻³)","titleX":-116,"titleBaseline":"middle"}},
      "stroke":{"field":"s","type":"nominal","scale":{"domain":["p17","p19","p21","deg","tsi"],"range":["#3a4da6","#1f8de0","#34bfc4","#e8322c","#000000"]},
        "legend":{"orient":"none","legendX":144,"legendY":750,"title":null,"symbolType":"M-1.8,0L1.8,0M0.6,0A0.6,0.6,0,1,1,-0.6,0A0.6,0.6,0,1,1,0.6,0Z","symbolSize":900,"symbolStrokeWidth":2,"symbolOpacity":1,"labelFontSize":28,"labelColor":"#222","labelLimit":400,"padding":10,"symbolOffset":13,"labelOffset":27,"rowPadding":3.5,"strokeColor":"#222","fillColor":"white",
          "labelExpr":"datum.label == 'p17' ? 'PSM, d = 1.7 nm' : datum.label == 'p19' ? 'PSM, d = 1.9 nm' : datum.label == 'p21' ? 'PSM, d = 2.1 nm' : datum.label == 'deg' ? 'DEG-CPC, d = 2 nm' : 'TSI 3776, d = 2.5 nm'"}}}},
   {"data":{"name":"parts"},"transform":[{"filter":"datum.s == 'deg' || datum.s == 'tsi'"}],"mark":{"type":"point","filled":true,"opacity":1,"strokeWidth":1,"size":45,"clip":true},
    "encoding":{"x":{"field":"t","type":"quantitative"},"y":{"field":"v","type":"quantitative"},
      "fill":{"field":"s","type":"nominal","scale":{"domain":["p17","p19","p21","deg","tsi"],"range":["#3a4da6","#1f8de0","#34bfc4","#e8322c","#000000"]},
        "legend":{"orient":"none","legendX":144,"legendY":750,"title":null,"symbolType":"M-1.8,0L1.8,0M0.6,0A0.6,0.6,0,1,1,-0.6,0A0.6,0.6,0,1,1,0.6,0Z","symbolSize":900,"symbolStrokeWidth":2,"symbolOpacity":1,"labelFontSize":28,"labelColor":"#222","labelLimit":400,"padding":10,"symbolOffset":13,"labelOffset":27,"rowPadding":3.5,"strokeColor":"#222","fillColor":"white",
          "labelExpr":"datum.label == 'p17' ? 'PSM, d = 1.7 nm' : datum.label == 'p19' ? 'PSM, d = 1.9 nm' : datum.label == 'p21' ? 'PSM, d = 2.1 nm' : datum.label == 'deg' ? 'DEG-CPC, d = 2 nm' : 'TSI 3776, d = 2.5 nm'"}},
      "stroke":{"field":"s","type":"nominal"}}},
   {"data":{"name":"parts"},"transform":[{"filter":"datum.s == 'p17' || datum.s == 'p19' || datum.s == 'p21'"}],"mark":{"type":"point","filled":true,"opacity":1,"strokeWidth":1,"size":75,"clip":true},
    "encoding":{"x":{"field":"t","type":"quantitative"},"y":{"field":"v","type":"quantitative"},
      "fill":{"field":"s","type":"nominal"},
      "stroke":{"field":"s","type":"nominal"}}},
   {"data":{"name":"jlab"},"mark":{"type":"point","shape":"square","size":2401,"filled":false,"color":"#222","strokeWidth":1.5,"opacity":1},
    "encoding":{"x":{"field":"bt","type":"quantitative"},"y":{"field":"v","type":"quantitative"}}},
   {"data":{"name":"jlab"},"mark":{"type":"text","text":"J","fontSize":28,"align":"right","baseline":"middle","dy":-3,"color":"#222"},
    "encoding":{"x":{"field":"t","type":"quantitative"},"y":{"field":"v","type":"quantitative"}}},
   {"data":{"name":"jlab"},"mark":{"type":"text","fontSize":19,"align":"left","baseline":"middle","dy":8,"color":"#222"},
    "encoding":{"x":{"field":"t","type":"quantitative"},"y":{"field":"v","type":"quantitative"},"text":{"field":"lab"}}},
   {"data":{"values":[{"txt":"c)","t":-20.6,"v":6477}]},
    "mark":{"type":"text","fontSize":31,"align":"center","baseline":"middle","color":"#222"},
    "encoding":{"x":{"field":"t","type":"quantitative"},"y":{"field":"v","type":"quantitative"},"text":{"field":"txt"}}},
   {"data":{"values":[{"txt":"vailable in:","t":-78.83,"v":1159},{"txt":"ust 2011,","t":-79.0,"v":-1275}]},
    "mark":{"type":"text","fontSize":35,"align":"left","baseline":"middle","color":"#000"},
    "encoding":{"x":{"field":"t","type":"quantitative"},"y":{"field":"v","type":"quantitative"},"text":{"field":"txt"}}},
   {"data":{"values":[{"txt":"acid, ammonia and","t":-78.3,"v":565},{"txt":"ays in atmospheric","t":-79.0,"v":-72},{"txt":"n,","t":-79.0,"v":-667}]},
    "mark":{"type":"text","fontSize":35,"fontStyle":"italic","align":"left","baseline":"middle","color":"#000"},
    "encoding":{"x":{"field":"t","type":"quantitative"},"y":{"field":"v","type":"quantitative"},"text":{"field":"txt"}}},
   {"data":{"values":[{"x1":-78.93,"x2":-43.85,"top":1652,"bot":-1753}]},
    "mark":{"type":"rule","color":"#000","strokeWidth":2},
    "encoding":{"x":{"field":"x1","type":"quantitative"},"x2":{"field":"x2"},"y":{"field":"top","type":"quantitative"}}},
   {"data":{"values":[{"x1":-78.93,"x2":-43.85,"top":1652,"bot":-1753}]},
    "mark":{"type":"rule","color":"#000","strokeWidth":2},
    "encoding":{"x":{"field":"x2","type":"quantitative"},"y":{"field":"top","type":"quantitative"},"y2":{"field":"bot"}}}
  ]
 }
]
}
